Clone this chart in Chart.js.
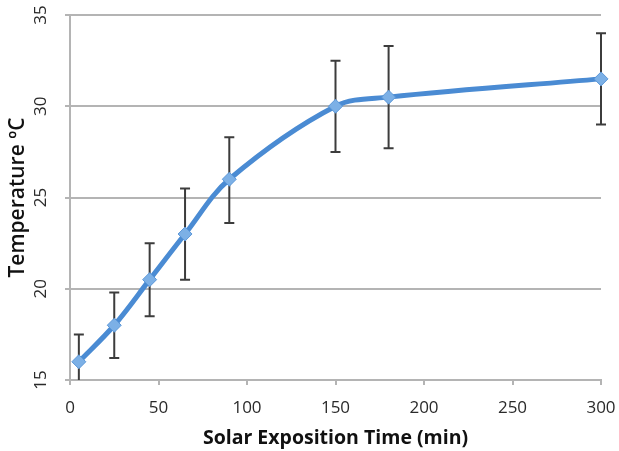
<!DOCTYPE html>
<html lang="en">
<head>
    <meta charset="UTF-8">
    <title>Temperature vs Solar Exposition Time</title>
    <script src="https://cdn.jsdelivr.net/npm/chart.js"></script>
    <style>
        html, body { margin: 0; padding: 0; background: #fff; }
        #wrap { width: 619px; height: 451px; }
    </style>
</head>
<body>
    <div id="wrap"><canvas id="tempChart"></canvas></div>

    <script>
        // values
        const times = [5, 25, 45, 65, 90, 150, 180, 300];
        const temps = [16, 18, 20.5, 23, 26, 30, 30.5, 31.5];
        const errLow = [14.5, 16.2, 18.5, 20.5, 23.6, 27.5, 27.7, 29.0];
        const errHigh = [17.5, 19.8, 22.5, 25.5, 28.3, 32.5, 33.3, 34.0];

        const fontFamily = '"Open Sans", Lato, sans-serif';

        // error bars drawn under the line, using the chart scales
        const errorBars = {
            id: 'errorBars',
            beforeDatasetsDraw(chart) {
                const ctx = chart.ctx;
                const xs = chart.scales.x;
                const ys = chart.scales.y;
                const area = chart.chartArea;
                ctx.save();
                // only cut off what falls below the x axis
                ctx.beginPath();
                ctx.rect(0, 0, chart.width, area.bottom);
                ctx.clip();
                ctx.strokeStyle = '#3c3c3c';
                ctx.lineWidth = 2;
                times.forEach((t, i) => {
                    const x = xs.getPixelForValue(t);
                    const y1 = ys.getPixelForValue(errLow[i]);
                    const y2 = ys.getPixelForValue(errHigh[i]);
                    ctx.beginPath();
                    ctx.moveTo(x, y1);
                    ctx.lineTo(x, y2);
                    ctx.moveTo(x - 5, y1);
                    ctx.lineTo(x + 5, y1);
                    ctx.moveTo(x - 5, y2);
                    ctx.lineTo(x + 5, y2);
                    ctx.stroke();
                });
                ctx.restore();
            }
        };

        const tempChart = new Chart(document.getElementById('tempChart').getContext('2d'), {
            type: 'line',
            data: {
                datasets: [{
                    label: 'Temperature',
                    data: times.map((t, i) => ({ x: t, y: temps[i] })),
                    borderColor: '#4a8bd3',
                    borderWidth: 5,
                    tension: 0.35,
                    clip: false,
                    pointStyle: 'rectRot',
                    pointRadius: 7,
                    pointBackgroundColor: '#7cb0e6',
                    pointBorderColor: '#5b97d8',
                    pointBorderWidth: 1,
                    fill: false
                }]
            },
            options: {
                responsive: true,
                maintainAspectRatio: false,
                animation: false,
                layout: { padding: { top: 15, right: 18, left: 0, bottom: 0 } },
                plugins: {
                    legend: { display: false },
                    tooltip: { enabled: false }
                },
                scales: {
                    x: {
                        type: 'linear',
                        min: 0,
                        max: 300,
                        afterFit: s => {
                            s.height = 71;
                            s.paddingLeft = 0;
                            s.paddingRight = 0;
                        },
                        ticks: {
                            stepSize: 50,
                            color: '#2a2a2a',
                            padding: 13,
                            font: { family: fontFamily, size: 17 }
                        },
                        grid: {
                            drawOnChartArea: false,
                            drawTicks: true,
                            tickLength: 5,
                            color: '#b4b4b4',
                            lineWidth: 2
                        },
                        border: { color: '#b4b4b4', width: 2 },
                        title: {
                            display: true,
                            text: 'Solar Exposition Time (min)',
                            color: '#111',
                            padding: { top: 0, bottom: 1 },
                            font: { family: fontFamily, size: 19.5, weight: 'bold' }
                        }
                    },
                    y: {
                        min: 15,
                        max: 35,
                        afterFit: s => {
                            s.width = 70;
                            s.paddingTop = 0;
                            s.paddingBottom = 0;
                        },
                        ticks: {
                            stepSize: 5,
                            color: '#2a2a2a',
                            padding: 14,
                            crossAlign: 'center',
                            minRotation: 90,
                            maxRotation: 90,
                            font: { family: fontFamily, size: 17 }
                        },
                        grid: {
                            color: '#b4b4b4',
                            lineWidth: 2,
                            tickLength: 5
                        },
                        border: { color: '#b4b4b4', width: 2 },
                        title: {
                            display: true,
                            text: 'Temperature ºC',
                            color: '#111',
                            padding: { top: 5, bottom: 4 },
                            font: { family: fontFamily, size: 21, weight: '600' }
                        }
                    }
                }
            },
            plugins: [errorBars]
        });
    </script>
</body>
</html>
